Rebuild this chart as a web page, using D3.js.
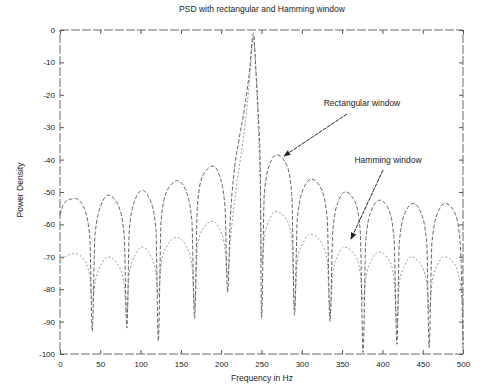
<!DOCTYPE html>
<html>
  <head>
    <meta charset="utf-8">
    <style>
      body { margin: 0; background: #fff; }
      text { font-family: "Liberation Sans", Arial, sans-serif; fill: #222; }
    </style>
    <script src="https://d3js.org/d3.v7.min.js"></script>
  </head>

  <body>
    <svg width="485" height="385"></svg>

    <script>
      var xTicks = [0, 50, 100, 150, 200, 250, 300, 350, 400, 450, 500];
      var yTicks = [0, -10, -20, -30, -40, -50, -60, -70, -80, -90, -100];

      // rectangular window PSD
      var rectFreq = [0, 4, 10, 19, 30, 37, 40,
        43.5, 51, 60, 72, 79.5, 83,
        86, 93, 102, 112, 119, 122,
        125.5, 133, 146, 156, 163.5, 167,
        170.5, 177, 190, 198, 204.5, 208,
        211, 216, 222, 229, 235, 240, 243, 246, 248.5, 250,
        253.5, 260, 269, 281, 287.5, 291,
        294.5, 302, 312, 324, 331.5, 335,
        338.5, 345, 354, 366, 372.5, 376,
        379.5, 386.5, 397, 408, 414.5, 418,
        421, 428, 438, 448, 455, 458,
        461.5, 468.5, 478, 490, 496.5, 500];
      var rectPower = [-57, -54, -52.5, -52, -55, -64, -93,
        -63, -54, -51, -54, -63, -92,
        -61.5, -52.5, -49.5, -52.5, -61.5, -96,
        -58.5, -49.5, -46.5, -49.5, -58.5, -89,
        -54, -45, -42, -45, -54, -81,
        -60, -44, -34, -24, -13, -1, -12, -26, -42, -89,
        -50.5, -41.5, -38.5, -41.5, -50.5, -88,
        -58, -49, -46, -49, -58, -90,
        -62, -53, -50, -53, -62, -99.5,
        -64.5, -55.5, -52.5, -55.5, -64.5, -97,
        -65.5, -56.5, -53.5, -56.5, -65.5, -98,
        -65.5, -56.5, -53.5, -56.5, -65.5, -97];

      // Hamming window PSD
      var hammingFreq = [0, 6, 19, 30, 37, 40,
        43.5, 51, 60, 72, 79.5, 83,
        86, 93, 102, 112, 119, 122,
        125.5, 133, 145, 156, 163.5, 167,
        170.5, 177, 190, 198, 204.5, 208,
        211, 218, 226, 232, 236, 240, 243, 246, 248.5, 250,
        253.5, 260, 268, 281, 287.5, 291,
        294.5, 302, 311, 324, 331.5, 335,
        338.5, 345, 352, 366, 372.5, 376,
        379.5, 386.5, 395, 408, 414.5, 418,
        421, 428, 435, 448, 455, 458,
        461.5, 468.5, 477, 490, 496.5, 500];
      var hammingPower = [-72, -70, -69, -71, -76, -84,
        -78, -72.5, -70, -72.5, -78, -88,
        -75, -69.5, -67, -69.5, -75, -82,
        -72, -66.5, -64, -66.5, -72, -86,
        -67, -61.5, -59, -61.5, -67, -76,
        -66, -50, -36, -24, -13, -2, -13, -30, -50, -72,
        -64, -58.5, -56, -58.5, -64, -86,
        -71, -65.5, -63, -65.5, -71, -88,
        -75, -69.5, -67, -69.5, -75, -84,
        -76.5, -71, -68.5, -71, -76.5, -91,
        -78, -72.5, -70, -72.5, -78, -87,
        -78, -72.5, -70, -72.5, -78, -86];

      var svg = d3.select("svg"),
        marginLeft = 60, marginTop = 30, width = 403, height = 324;

      var x = d3.scaleLinear().domain([0, 500]).range([0, width]);
      var y = d3.scaleLinear().domain([-100, 0]).range([height, 0]);

      var g = svg.append("g")
        .attr("transform", "translate(" + marginLeft + "," + marginTop + ")");

      svg.append("defs").append("marker")
        .attr("id", "head")
        .attr("viewBox", "0 0 10 10")
        .attr("refX", 9).attr("refY", 5)
        .attr("markerWidth", 7).attr("markerHeight", 7)
        .attr("orient", "auto")
        .append("path").attr("d", "M0,1L10,5L0,9z").attr("fill", "#222");

      var line = d3.line().curve(d3.curveMonotoneX);

      function pts(fs, ps) {
        return fs.map(function (f, i) { return [x(f), y(ps[i])]; });
      }

      g.append("path")
        .attr("d", line(pts(hammingFreq, hammingPower)))
        .attr("fill", "none")
        .attr("stroke", "#9a9a9a")
        .attr("stroke-width", 1)
        .attr("stroke-dasharray", "2,2");

      g.append("path")
        .attr("d", line(pts(rectFreq, rectPower)))
        .attr("fill", "none")
        .attr("stroke", "#666")
        .attr("stroke-width", 1)
        .attr("stroke-dasharray", "4,2");

      // frame
      g.append("rect")
        .attr("width", width).attr("height", height)
        .attr("fill", "none")
        .attr("stroke", "#666")
        .attr("stroke-dasharray", "9,2");

      function plain(d) { return String(d); }

      g.append("g")
        .attr("transform", "translate(0," + height + ")")
        .call(d3.axisBottom(x).tickValues(xTicks).tickSize(-4).tickPadding(7).tickFormat(plain));
      g.append("g")
        .call(d3.axisLeft(y).tickValues(yTicks).tickSize(-4).tickPadding(5).tickFormat(plain));
      g.append("g")
        .attr("transform", "translate(" + width + ",0)")
        .call(d3.axisRight(y).tickValues(yTicks).tickSize(-4).tickFormat(""));
      g.append("g")
        .call(d3.axisTop(x).tickValues(xTicks).tickSize(-4).tickFormat(""));

      g.selectAll(".domain").remove();
      g.selectAll(".tick line").attr("stroke", "#555");
      g.selectAll(".tick text")
        .attr("font-family", "Liberation Sans, Arial, sans-serif")
        .attr("font-size", 8)
        .attr("fill", "#222");

      svg.append("text")
        .attr("x", 262).attr("y", 12)
        .attr("text-anchor", "middle")
        .attr("font-size", 8.5)
        .text("PSD with rectangular and Hamming window");

      svg.append("text")
        .attr("x", 262).attr("y", 381)
        .attr("text-anchor", "middle")
        .attr("font-size", 8.5)
        .text("Frequency in Hz");

      svg.append("text")
        .attr("transform", "translate(23,190) rotate(-90)")
        .attr("text-anchor", "middle")
        .attr("font-size", 8.5)
        .text("Power Density");

      svg.append("text")
        .attr("x", 362).attr("y", 106)
        .attr("text-anchor", "middle")
        .attr("font-size", 8.5)
        .text("Rectangular window");
      svg.append("line")
        .attr("x1", 347).attr("y1", 114).attr("x2", 284).attr("y2", 156)
        .attr("stroke", "#222").attr("stroke-dasharray", "4,1")
        .attr("marker-end", "url(#head)");

      svg.append("text")
        .attr("x", 388).attr("y", 163)
        .attr("text-anchor", "middle")
        .attr("font-size", 8.5)
        .text("Hamming window");
      svg.append("line")
        .attr("x1", 383).attr("y1", 170).attr("x2", 351).attr("y2", 239)
        .attr("stroke", "#222").attr("stroke-dasharray", "4,1")
        .attr("marker-end", "url(#head)");
    </script>
  </body>
</html>
